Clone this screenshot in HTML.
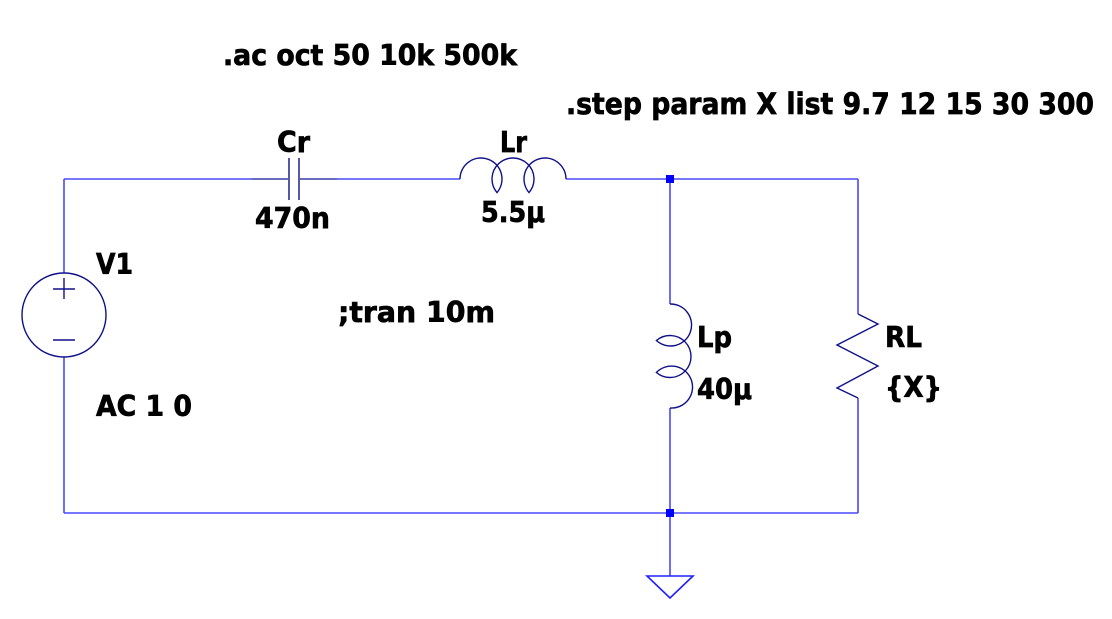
<!DOCTYPE html>
<html><head><meta charset="utf-8"><style>
html,body{margin:0;padding:0;background:#fff;}
svg{display:block;}
text{font-family:"DejaVu Sans","Liberation Sans",sans-serif;font-weight:bold;font-size:28.5px;fill:#000;stroke:#000;stroke-width:0.7px;}
</style></head><body>
<svg width="1112" height="619" viewBox="0 0 1112 619" xmlns="http://www.w3.org/2000/svg">
<g fill="none" stroke="#4848ff" stroke-width="1.6">
  <path d="M64 179 H289 M299 179 H460 M566 179 H858"/>
  <path d="M64 179 V273 M64 357 V513"/>
  <path d="M64 513 H858"/>
  <path d="M670 179 V304 M670 408 V576"/>
  <path d="M858 179 V314 M858 398 V513"/>
  <path d="M647 576 H693 L670 598 Z" stroke="#2020ff"/>
</g>
<g fill="none" stroke="#10108a" stroke-width="1.4">
  <circle cx="64" cy="315" r="42"/>
  <path d="M53 289 H75 M64 278 V299 M53 340 H75"/>
  <path d="M289 158 V200 M299 158 V200"/>
  <path d="M252 179 H289 M299 179 H337" stroke="#5a5aa8"/>
  <path d="M460 179 A21 21 0 1 1 497 192.6 A21 21 0 1 1 529 192.6 A21 21 0 1 1 566 179"/>
  <path d="M670 304 A21 21 0 1 1 656.4 340.5 A21 21 0 1 1 656.4 372.5 A21 21 0 1 1 670 408"/>
  <polyline points="858,314 878,324 837,345 878,366 837,388 858,398"/>
</g>
<rect x="666" y="175" width="8" height="8" fill="#0000ff"/>
<rect x="666" y="509" width="8" height="8" fill="#0000ff"/>

<text x="223" y="65" textLength="294" lengthAdjust="spacingAndGlyphs">.ac oct 50 10k 500k</text>
<text x="566" y="114" textLength="528" lengthAdjust="spacingAndGlyphs" style="font-size:29px">.step param X list 9.7 12 15 30 300</text>
<text x="277" y="152" textLength="33" lengthAdjust="spacingAndGlyphs">Cr</text>
<text x="255" y="228" textLength="75" lengthAdjust="spacingAndGlyphs">470n</text>
<text x="500" y="152" textLength="27" lengthAdjust="spacingAndGlyphs">Lr</text>
<text x="481" y="222" textLength="64" lengthAdjust="spacingAndGlyphs">5.5μ</text>
<text x="96" y="274" textLength="37" lengthAdjust="spacingAndGlyphs">V1</text>
<text x="96" y="416" textLength="96" lengthAdjust="spacingAndGlyphs">AC 1 0</text>
<text x="338" y="322" textLength="157" lengthAdjust="spacingAndGlyphs">;tran 10m</text>
<text x="697" y="347" textLength="35" lengthAdjust="spacingAndGlyphs">Lp</text>
<text x="697" y="399" textLength="55" lengthAdjust="spacingAndGlyphs">40μ</text>
<text x="885" y="347" textLength="37" lengthAdjust="spacingAndGlyphs">RL</text>
<text x="885" y="397" textLength="57" lengthAdjust="spacingAndGlyphs">{X}</text>
</svg>
</body></html>
